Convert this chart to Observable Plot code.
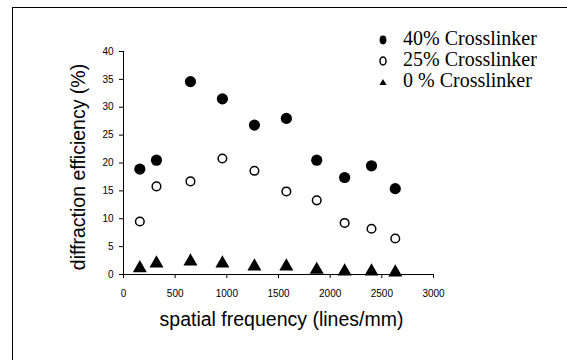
<!DOCTYPE html>
<html>
<head>
<meta charset="utf-8">
<script src="https://cdn.jsdelivr.net/npm/d3@7"></script>
<script src="https://cdn.jsdelivr.net/npm/@observablehq/plot@0.6"></script>
<style>
  html, body { margin: 0; padding: 0; background: #fff; }
  #wrap { position: relative; width: 567px; height: 360px; overflow: hidden; }
  #border { position: absolute; left: 12px; top: 7px; width: 600px; height: 400px; border: 1px solid #000; box-sizing: border-box; }
  #chart { position: absolute; left: 0; top: 0; }
  #legend { position: absolute; left: 376px; top: 28px; font-family: "Liberation Serif", "Times New Roman", serif; font-size: 20px; color: #000; line-height: 21px; }
  #legend .row { display: flex; align-items: center; height: 21px; white-space: nowrap; }
  #legend svg { width: 14px; height: 14px; margin-right: 13px; flex: none; }
</style>
</head>
<body>
<div id="wrap">
  <div id="border"></div>
  <div id="chart"></div>
  <div id="legend"></div>
</div>
<script>
const frequency = [158, 319, 648, 957, 1267, 1576, 1870, 2140, 2400, 2630];
const series = ["40% Crosslinker", "25% Crosslinker", "0 % Crosslinker"];
const eff40 = [18.9, 20.5, 34.6, 31.5, 26.8, 28.0, 20.5, 17.4, 19.5, 15.4];
const eff25 = [9.5, 15.8, 16.7, 20.8, 18.6, 14.9, 13.3, 9.25, 8.2, 6.45];
const eff0 = [1.15, 2.0, 2.35, 2.0, 1.45, 1.45, 0.85, 0.55, 0.55, 0.37];
const xTicks = [0, 500, 1000, 1500, 2000, 2500, 3000];
const yTicks = [0, 5, 10, 15, 20, 25, 30, 35, 40];
const xLabel = "spatial frequency (lines/mm)";
const yLabel = "diffraction efficiency (%)";

const rows = (vals) => frequency.map((f, i) => ({f, v: vals[i]}));

const chart = Plot.plot({
  width: 567,
  height: 360,
  marginLeft: 123,
  marginRight: 134,
  marginTop: 51,
  marginBottom: 86,
  style: {fontFamily: "'Liberation Sans', Arial, sans-serif", fontSize: "10px", background: "transparent", color: "#000"},
  x: {domain: [0, 3000]},
  y: {domain: [0, 40]},
  marks: [
    Plot.axisX({ticks: xTicks, tickSize: 4, tickPadding: 11, tickFormat: d3.format("d"), label: null, fontSize: 10}),
    Plot.axisY({ticks: yTicks, tickSize: 4, tickPadding: 6, tickFormat: d3.format("d"), label: null, fontSize: 10}),
    Plot.ruleX([0], {stroke: "#000"}),
    Plot.ruleY([0], {stroke: "#000"}),
    Plot.text([yLabel], {frameAnchor: "left", dx: -45, dy: 4, rotate: -90, textAnchor: "middle", fontSize: 19.5, text: d => d, fill: "#000"}),
    Plot.text([xLabel], {frameAnchor: "bottom", dx: 3, dy: 51, fontSize: 19.5, text: d => d, fill: "#000"}),
    Plot.dot(rows(eff0), {x: "f", y: "v", symbol: "triangle", r: 5.2, fill: "#000", stroke: "none"}),
    Plot.dot(rows(eff25), {x: "f", y: "v", symbol: "circle", r: 4.3, fill: "#fff", stroke: "#000", strokeWidth: 1.5}),
    Plot.dot(rows(eff40), {x: "f", y: "v", symbol: "circle", r: 5.6, fill: "#000", stroke: "none"})
  ]
});
document.getElementById("chart").appendChild(chart);

// Legend
const legend = d3.select("#legend");
const shapes = [
  g => g.append("ellipse").attr("cx", 7).attr("cy", 8).attr("rx", 3.4).attr("ry", 4.4).attr("fill", "#000"),
  g => g.append("ellipse").attr("cx", 7).attr("cy", 8).attr("rx", 3).attr("ry", 4).attr("fill", "#fff").attr("stroke", "#000").attr("stroke-width", 1.5),
  g => g.append("path").attr("d", d3.symbol(d3.symbolTriangle, 22)()).attr("transform", "translate(7,9)").attr("fill", "#000")
];
series.forEach((s, i) => {
  const row = legend.append("div").attr("class", "row");
  const svg = row.append("svg");
  shapes[i](svg);
  row.append("span").text(s);
});
</script>
</body>
</html>
